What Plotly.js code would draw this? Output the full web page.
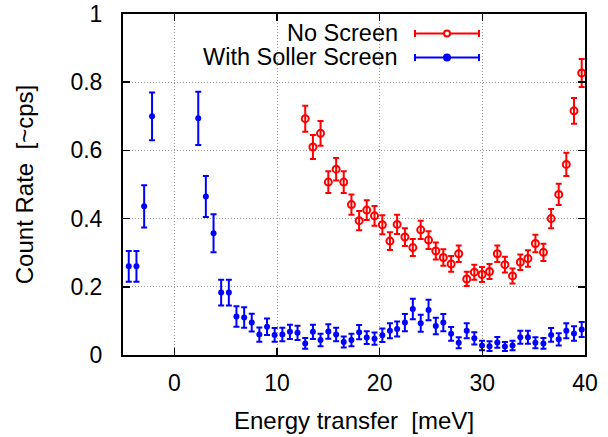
<!DOCTYPE html>
<html>
<head>
<meta charset="utf-8">
<script src="https://cdn.plot.ly/plotly-3.0.1.min.js"></script>
<style>html,body{margin:0;padding:0;background:#fff;}#chart{width:608px;height:437px;}</style>
</head>
<body>
<div id="chart"></div>
<script>
// Energy transfer [meV]
const energySoller = [-4.44, -3.69, -2.94, -2.17, 2.33, 3.07, 3.82, 4.56, 5.31, 6.05, 6.80, 7.54, 8.28, 9.03, 9.77, 10.52, 11.26, 12.00, 12.75, 13.50, 14.24, 15.00, 15.76, 16.50, 17.25, 18.00, 18.74, 19.50, 20.26, 21.00, 21.70, 22.46, 23.23, 24.00, 24.76, 25.47, 26.20, 26.96, 27.70, 28.48, 29.22, 29.97, 30.70, 31.46, 32.20, 32.94, 33.70, 34.44, 35.17, 35.95, 36.70, 37.44, 38.18, 38.93, 39.68];
const rateSoller = [0.26, 0.26, 0.436, 0.70, 0.694, 0.465, 0.357, 0.183, 0.183, 0.113, 0.110, 0.095, 0.060, 0.083, 0.059, 0.060, 0.068, 0.065, 0.034, 0.068, 0.044, 0.069, 0.060, 0.038, 0.044, 0.067, 0.051, 0.048, 0.058, 0.071, 0.076, 0.095, 0.135, 0.093, 0.132, 0.085, 0.095, 0.062, 0.036, 0.071, 0.049, 0.028, 0.026, 0.037, 0.025, 0.028, 0.052, 0.052, 0.036, 0.034, 0.059, 0.046, 0.071, 0.063, 0.075];
const errSoller = [0.045, 0.045, 0.062, 0.07, 0.078, 0.06, 0.056, 0.038, 0.038, 0.03, 0.03, 0.026, 0.021, 0.024, 0.02, 0.02, 0.021, 0.021, 0.016, 0.021, 0.018, 0.021, 0.02, 0.016, 0.018, 0.021, 0.019, 0.018, 0.02, 0.022, 0.022, 0.025, 0.03, 0.025, 0.03, 0.024, 0.025, 0.02, 0.016, 0.022, 0.018, 0.014, 0.014, 0.016, 0.013, 0.014, 0.019, 0.019, 0.016, 0.016, 0.02, 0.018, 0.022, 0.021, 0.022];

const energyNone = [12.75, 13.50, 14.24, 15.00, 15.76, 16.50, 17.25, 18.00, 18.74, 19.50, 20.26, 21.00, 21.70, 22.46, 23.23, 24.00, 24.76, 25.47, 26.20, 26.96, 27.70, 28.48, 29.22, 29.97, 30.70, 31.46, 32.20, 32.94, 33.70, 34.44, 35.17, 35.95, 36.70, 37.44, 38.18, 38.93, 39.68];
const rateNone = [0.693, 0.61, 0.65, 0.507, 0.545, 0.507, 0.441, 0.394, 0.425, 0.408, 0.382, 0.334, 0.383, 0.346, 0.315, 0.367, 0.337, 0.305, 0.286, 0.267, 0.297, 0.223, 0.243, 0.236, 0.245, 0.297, 0.265, 0.232, 0.272, 0.283, 0.327, 0.301, 0.400, 0.471, 0.559, 0.716, 0.827];
const errNone = [0.038, 0.035, 0.036, 0.032, 0.033, 0.032, 0.03, 0.028, 0.029, 0.029, 0.028, 0.026, 0.028, 0.026, 0.025, 0.027, 0.026, 0.025, 0.024, 0.023, 0.024, 0.021, 0.022, 0.022, 0.022, 0.024, 0.023, 0.022, 0.023, 0.024, 0.026, 0.025, 0.028, 0.031, 0.034, 0.038, 0.041];

const seriesNames = ["No Screen", "With Soller Screen"];
const xTicks = [0, 10, 20, 30, 40];
const yTicks = [0, 0.2, 0.4, 0.6, 0.8, 1];

const FONT = "Liberation Sans, Arial, sans-serif";
const RED = "#ff0000", BLUE = "#0000ff";

const traces = [
  {
    x: energyNone, y: rateNone, type: "scatter", mode: "markers", name: seriesNames[0],
    marker: {symbol: "circle-open", size: 7, color: RED, line: {width: 2, color: RED}},
    error_y: {type: "data", array: errNone, visible: true, color: RED, thickness: 2, width: 3},
    showlegend: false
  },
  {
    x: energySoller, y: rateSoller, type: "scatter", mode: "markers", name: seriesNames[1],
    marker: {symbol: "circle", size: 6, color: BLUE},
    error_y: {type: "data", array: errSoller, visible: true, color: BLUE, thickness: 2, width: 3},
    showlegend: false
  }
];

// custom gnuplot-style legend (text right-aligned, sample on the right)
const L = 123, R = 585, T = 13.5, B = 355;
const px = v => (v - L) / (R - L);
const py = v => (B - v) / (B - T);
const rows = [{y: 33, c: RED, open: true}, {y: 57, c: BLUE, open: false}];
const shapes = [], annotations = [];
rows.forEach((r, i) => {
  annotations.push({xref: "paper", yref: "paper", x: px(400), y: py(r.y), xanchor: "right", yanchor: "middle",
    text: seriesNames[i], showarrow: false, font: {family: FONT, size: 23.5, color: "#000"}});
  shapes.push({type: "line", xref: "paper", yref: "paper", x0: px(415), x1: px(479), y0: py(r.y), y1: py(r.y), line: {color: r.c, width: 2}});
  shapes.push({type: "line", xref: "paper", yref: "paper", x0: px(415), x1: px(415), y0: py(r.y - 3.5), y1: py(r.y + 3.5), line: {color: r.c, width: 2}});
  shapes.push({type: "line", xref: "paper", yref: "paper", x0: px(479), x1: px(479), y0: py(r.y - 3.5), y1: py(r.y + 3.5), line: {color: r.c, width: 2}});
  shapes.push({type: "circle", xref: "paper", yref: "paper", x0: px(444), x1: px(450), y0: py(r.y - 3), y1: py(r.y + 3),
    line: {color: r.c, width: 2}, fillcolor: r.open ? "#fff" : r.c});
});

const layout = {
  width: 608, height: 437,
  margin: {l: 123, r: 23, t: 13.5, b: 82, pad: 0},
  paper_bgcolor: "#fff", plot_bgcolor: "#fff",
  font: {family: FONT, size: 23, color: "#000"},
  xaxis: {
    range: [-5, 40], tickvals: xTicks, ticks: "inside", ticklen: 7, tickwidth: 1.5, tickcolor: "#000",
    showline: true, linecolor: "#000", linewidth: 2, mirror: "ticks",
    showgrid: true, gridcolor: "#999999", gridwidth: 1, griddash: "1px,2px", zeroline: false,
    tickfont: {family: FONT, size: 23}, ticklabelstandoff: 6,
    title: {text: "Energy transfer  [meV]", font: {family: FONT, size: 24}, standoff: 18}
  },
  yaxis: {
    range: [0, 1], tickvals: yTicks, ticks: "inside", ticklen: 7, tickwidth: 1.5, tickcolor: "#000",
    showline: true, linecolor: "#000", linewidth: 2, mirror: "ticks",
    showgrid: true, gridcolor: "#999999", gridwidth: 1, griddash: "1px,2px", zeroline: false,
    tickfont: {family: FONT, size: 23}, ticklabelstandoff: 14,
    title: {text: "Count Rate  [~cps]", font: {family: FONT, size: 24}, standoff: 30}
  },
  shapes: shapes,
  annotations: annotations,
  showlegend: false
};

Plotly.newPlot("chart", traces, layout, {staticPlot: true, displayModeBar: false});
</script>
</body>
</html>
